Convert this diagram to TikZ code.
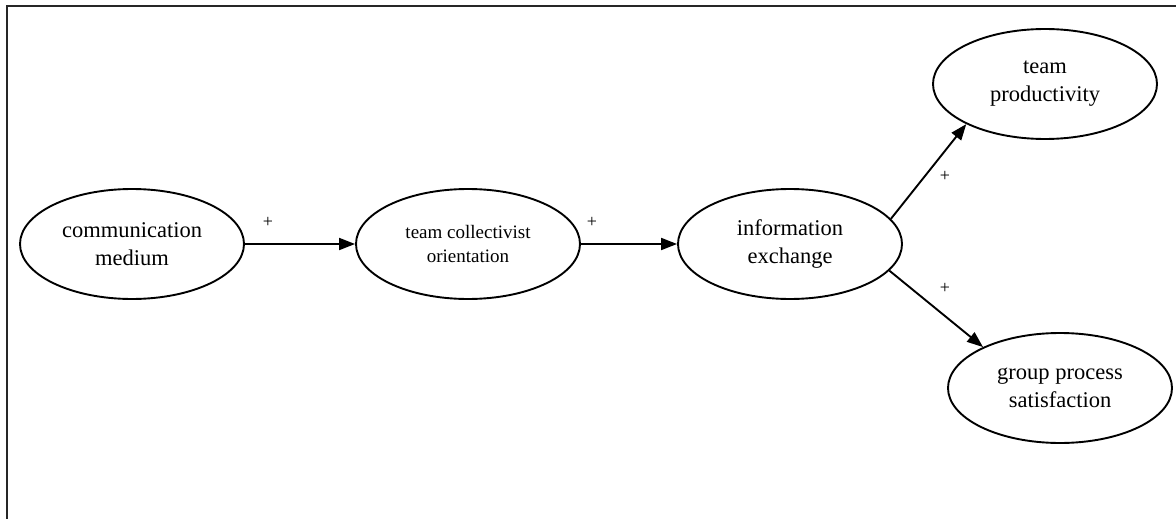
\documentclass[tikz,border=0pt]{standalone}
\usepackage{fontspec}
\setmainfont{Liberation Serif}
\usetikzlibrary{shapes.geometric,arrows.meta}

\begin{document}
\begin{tikzpicture}[x=1pt,y=-1pt,
  concept/.style={ellipse,draw,line width=1.9pt,minimum width=224pt,minimum height=110pt,
    inner sep=0pt,align=center,font=\fontsize{22.5}{28}\selectfont},
  link/.style={line width=1.9pt,-{Triangle[length=16pt,width=12pt]}},
  sign/.style={font=\fontsize{18}{20}\selectfont}]
  \useasboundingbox (0,0) rectangle (1176,519);
  % partial frame: top and left sides
  \coordinate (frameTL) at (7,6);
  \coordinate (frameTR) at (1176,6);
  \coordinate (frameBL) at (7,519);
  \draw[line width=2.6pt,black!85] (frameTR) -- (frameTL) -- (frameBL);

  \node[concept] (comm) at (132,244) {communication\\medium};
  \node[concept,font=\fontsize{19}{23.5}\selectfont] (coll) at (468,244) {team collectivist\\orientation};
  \node[concept] (info) at (790,244) {information\\exchange};
  \node[concept] (prod) at (1045,84) {team\\productivity};
  \node[concept] (sat) at (1060,388) {group process\\satisfaction};

  \draw[link] (comm.east) -- (coll.west);
  \draw[link] (coll.east) -- (info.west);
  \draw[link] (info.14.6) -- (prod.207.7);
  \draw[link] (info.345.4) -- (sat.152.9);

  \node[sign] (s1) at (268,222) {+};
  \node[sign] (s2) at (592,222) {+};
  \node[sign] (s3) at (945,176) {+};
  \node[sign] (s4) at (945,288) {+};
\end{tikzpicture}
\end{document}
